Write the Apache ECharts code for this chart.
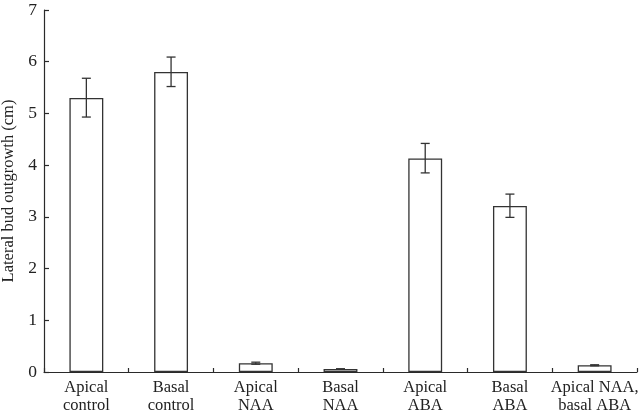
<!DOCTYPE html>
<html><head><meta charset="utf-8">
<script src="https://cdn.jsdelivr.net/npm/echarts@6/dist/echarts.min.js"></script>
<style>html,body{margin:0;padding:0;background:#fff}#c{width:640px;height:413px}</style>
</head><body><div id="c"></div>
<script>
const categories = ['Apical\ncontrol','Basal\ncontrol','Apical\nNAA','Basal\nNAA','Apical\nABA','Basal\nABA','Apical NAA,\nbasal ABA'];
const values = [5.3, 5.8, 0.17, 0.06, 4.13, 3.21, 0.13];
const errLow = [4.93, 5.52, 0.15, 0.06, 3.85, 2.99, 0.12];
const errHigh = [5.68, 6.09, 0.19, 0.06, 4.42, 3.44, 0.14];
const yTicks = [0,1,2,3,4,5,6,7];

const chart = echarts.init(document.getElementById('c'));
const font = 'Liberation Serif';
const ink = '#2a2a2a';
chart.setOption({
  animation: false,
  grid: {left: 44, right: 3, top: 10, bottom: 41, containLabel: false, outerBoundsMode: 'none'},
  xAxis: {
    type: 'category', data: categories,
    axisLine: {lineStyle: {color: ink, width: 1.2}},
    axisTick: {show: true, inside: true, length: 4, lineStyle: {color: ink, width: 1.2}},
    axisLabel: {fontFamily: font, fontSize: 16.5, color: '#222', lineHeight: 17.5, margin: 7, interval: 0, hideOverlap: false}
  },
  yAxis: {
    type: 'value', min: 0, max: 7, interval: 1,
    name: 'Lateral bud outgrowth (cm)', nameLocation: 'middle', nameGap: 27,
    nameTextStyle: {fontFamily: font, fontSize: 16.5, color: '#222'},
    splitLine: {show: false},
    axisLine: {show: true, lineStyle: {color: ink, width: 1.2}},
    axisTick: {show: true, inside: true, length: 5, lineStyle: {color: ink, width: 1.2}},
    axisLabel: {fontFamily: font, fontSize: 17.5, color: '#222', margin: 7,
      formatter: v => yTicks.includes(v) ? String(v) : ''}
  },
  series: [
    {type: 'bar', data: values, barWidth: '40%',
     itemStyle: {color: '#fff', borderColor: '#333', borderWidth: 1.3}},
    {type: 'custom', z: 10,
     data: categories.map((c, i) => [i, errLow[i], errHigh[i]]),
     renderItem: (params, api) => {
       const x = api.value(0);
       const lo = api.coord([x, api.value(1)]);
       const hi = api.coord([x, api.value(2)]);
       const w = 4.5;
       const st = {stroke: '#333', lineWidth: 1.3};
       return {type: 'group', children: [
         {type: 'line', shape: {x1: lo[0], y1: lo[1], x2: hi[0], y2: hi[1]}, style: st},
         {type: 'line', shape: {x1: hi[0]-w, y1: hi[1], x2: hi[0]+w, y2: hi[1]}, style: st},
         {type: 'line', shape: {x1: lo[0]-w, y1: lo[1], x2: lo[0]+w, y2: lo[1]}, style: st}
       ]};
     }}
  ]
});
</script></body></html>
